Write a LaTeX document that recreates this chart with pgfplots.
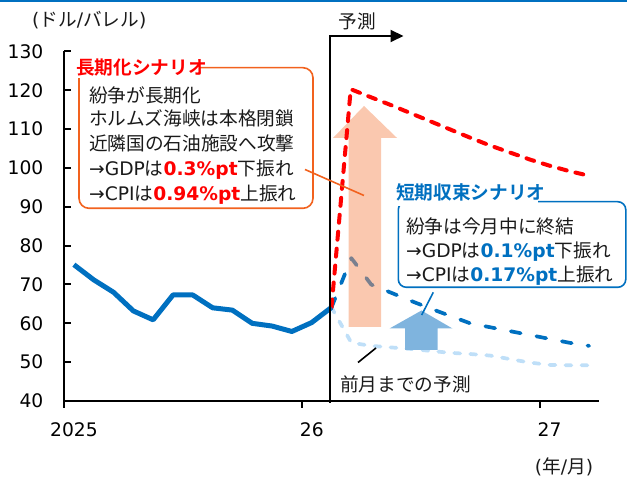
\documentclass[border=0pt]{standalone}
\usepackage{fontspec}
\usepackage{pgfplots}
\pgfplotsset{compat=1.18}
\usetikzlibrary{arrows.meta}
\setmainfont{DejaVu Sans}
\newfontfamily\jp{Noto Sans CJK JP}[BoldFont={* Bold}]
\newcommand{\J}[1]{{\jp #1}}
\newcommand{\fs}{\fontsize{18.67bp}{24bp}\selectfont}
\definecolor{mblue}{HTML}{0070C0}
\definecolor{lblue}{HTML}{BFDFF8}
\definecolor{ored}{HTML}{FF0000}
\definecolor{oborder}{HTML}{F2621E}
\definecolor{oarrow}{HTML}{F5915F}
\definecolor{barrow}{HTML}{7FB4DE}
\definecolor{txt}{HTML}{1A1A1A}
\begin{document}
\begin{tikzpicture}
\useasboundingbox (0,0) rectangle (627bp,477bp);
\begin{axis}[
  at={(64bp,76bp)}, anchor=south west,
  scale only axis, width=535bp, height=349.5bp,
  xmin=0, xmax=27, ymin=40, ymax=130,
  axis x line*=bottom, axis y line*=left,
  axis line style={line width=2bp, black},
  xtick={0,12,24}, xticklabels={2025,26,27},
  ytick={40,50,...,130},
  xtick align=outside, ytick align=inside,
  major tick length=6.5bp,
  major tick style={line width=2bp, black},
  tick label style={font=\fs, text=black},
  /pgf/number format/assume math mode=true,
  xticklabel style={anchor=north, inner sep=0pt, yshift=-15bp, xshift=10bp},
  yticklabel style={anchor=east, inner sep=0pt, xshift=-20.5bp},
  clip=false,
]
% previous forecast
\addplot[lblue, line width=3.7bp, line cap=round, line join=round, dash pattern=on 6bp off 10bp] coordinates {
(13.5,64.1) (14.5,55.0) (15.5,54.2) (16.5,53.8) (17.5,53.4) (18.5,52.9) (19.5,52.4)
(20.5,52.1) (21.5,51.7) (22.5,50.8) (23.5,49.9) (24.5,49.3) (25.5,49.2) (26.5,49.2)};
% short-term scenario
\addplot[mblue, line width=3.7bp, line cap=round, line join=round, dash pattern=on 10bp off 16bp] coordinates {
(13.5,64.1) (14.5,76.8) (15.5,70.0) (16.5,67.9) (17.5,65.8) (18.5,63.8) (19.5,61.9)
(20.5,60.0) (21.5,59.0) (22.5,58.0) (23.5,57.0) (24.5,56.0) (25.5,55.0) (26.5,54.2)};
% orange arrow (semi-transparent)
\fill[oarrow, opacity=0.5] (axis cs:14.358,59.06) -- (axis cs:14.358,107.73) -- (axis cs:13.576,107.73)
  -- (axis cs:15.140,115.97) -- (axis cs:16.806,107.73) -- (axis cs:15.998,107.73) -- (axis cs:15.998,59.06) -- cycle;
% long-term scenario
\addplot[ored, line width=4bp, line cap=round, line join=round, dash pattern=on 8bp off 9bp] coordinates {
(13.5,64.1) (14.47,120.3) (15.5,118.2) (16.5,116.2) (17.5,114.1) (18.5,112.0) (19.5,109.9)
(20.5,107.8) (21.5,105.8) (22.5,104.0) (23.5,102.2) (24.5,100.6) (25.5,99.2) (26.5,98.0)};
% actual
\addplot[mblue, line width=5bp, line join=round] coordinates {
(0.5,75.1) (1.5,71.2) (2.5,68.0) (3.5,63.2) (4.5,60.9) (5.5,67.3) (6.5,67.3)
(7.5,64.0) (8.5,63.4) (9.5,60.0) (10.5,59.3) (11.5,57.9) (12.5,60.2) (13.5,64.1)};
\end{axis}
\begin{scope}[shift={(0bp,477bp)}, x=1bp, y=-1bp]
\fill[mblue] (0,0) rectangle (627,2.5);
\node[anchor=base west, inner sep=0pt, font=\fs, text=txt] at (32,26.5) {(\J{ドル}/\J{バレル})};
% forecast marker
\node[anchor=base, inner sep=0pt, font=\fs\jp, text=txt] at (357,29) {予測};
\draw[line width=2bp, -{Triangle[length=13bp,width=12bp]}] (330,403) -- (330,36) -- (403.5,36);
% orange box
\draw[oborder, line width=1.6bp, rounded corners=10bp, fill=white] (79,67.7) rectangle (313,208.3);
\fill[white] (72,55) rectangle (199,78.5);
\node[anchor=base west, inner sep=0pt, font=\fs\jp\bfseries, text=ored] at (76,74.5) {長期化シナリオ};
\node[anchor=base west, inner sep=0pt, font=\fs, text=txt] at (89,102.5) {\J{紛争が長期化}};
\node[anchor=base west, inner sep=0pt, font=\fs, text=txt] at (89,126) {\J{ホルムズ海峡は本格閉鎖}};
\node[anchor=base west, inner sep=0pt, font=\fs, text=txt] at (89,151) {\J{近隣国の石油施設へ攻撃}};
\node[anchor=base west, inner sep=0pt, font=\fs, text=txt] at (89,175.5) {→GDP\J{は}{\bfseries\color{ored}0.3\%pt}\J{下振れ}};
\node[anchor=base west, inner sep=0pt, font=\fs, text=txt] at (89,200.5) {→CPI\J{は}{\bfseries\color{ored}0.94\%pt}\J{上振れ}};
\draw[oborder, line width=1.6bp] (305,169.5) -- (364,195.5);
% blue arrow
\fill[barrow] (405,350) -- (405,328.5) -- (389.5,328.5) -- (421.5,310.5) -- (452.5,328.5) -- (437.5,328.5) -- (437.5,350) -- cycle;
\draw[mblue, line width=1.6bp] (433.3,292.3) -- (421.7,315);
% blue box
\draw[mblue, line width=1.6bp, rounded corners=8bp, fill=white] (398.3,201.7) rectangle (625.8,287.3);
\fill[white] (392,178) rectangle (538,206.5);
\node[anchor=base west, inner sep=0pt, font=\fs\jp\bfseries, text=mblue] at (396,200) {短期収束シナリオ};
\node[anchor=base west, inner sep=0pt, font=\fs, text=txt] at (406,233.5) {\J{紛争は今月中に終結}};
\node[anchor=base west, inner sep=0pt, font=\fs, text=txt] at (406,258) {→GDP\J{は}{\bfseries\color{mblue}0.1\%pt}\J{下振れ}};
\node[anchor=base west, inner sep=0pt, font=\fs, text=txt] at (406,282) {→CPI\J{は}{\bfseries\color{mblue}0.17\%pt}\J{上振れ}};
% previous forecast label
\draw[line width=1.6bp] (358,362.5) -- (376,348);
\node[anchor=base west, inner sep=0pt, font=\fs\jp, text=txt] at (340,392) {前月までの予測};
\node[anchor=base, inner sep=0pt, font=\fs, text=txt] at (564,474) {(\J{年}/\J{月})};
\end{scope}
\end{tikzpicture}
\end{document}
